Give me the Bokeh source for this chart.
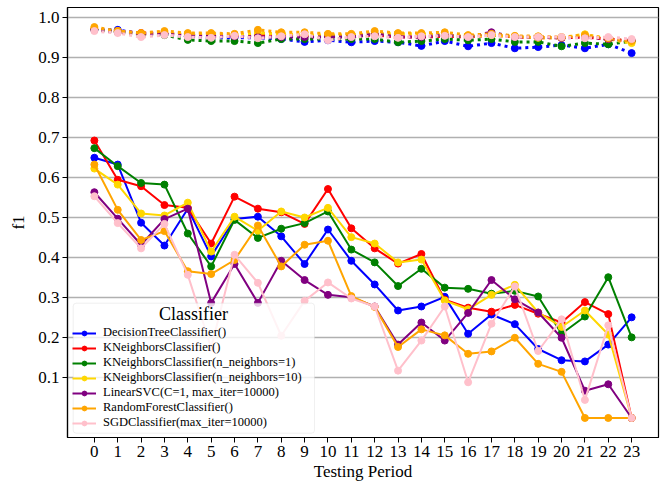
from bokeh.plotting import figure
from bokeh.models import (FixedTicker, Legend, LegendItem, Range1d, PrintfTickFormatter,
                          Label, BoxAnnotation)
from bokeh.embed import file_html
from bokeh.resources import INLINE

periods = list(range(24))

names = [
    "DecisionTreeClassifier()",
    "KNeighborsClassifier()",
    "KNeighborsClassifier(n_neighbors=1)",
    "KNeighborsClassifier(n_neighbors=10)",
    "LinearSVC(C=1, max_iter=10000)",
    "RandomForestClassifier()",
    "SGDClassifier(max_iter=10000)",
]
colors = ["blue", "red", "green", "gold", "purple", "orange", "pink"]

# test-period f1 (solid lines)
dt_test = [0.649, 0.632, 0.487, 0.430, 0.522, 0.403, 0.496, 0.502, 0.453, 0.384, 0.470, 0.392,
           0.333, 0.268, 0.278, 0.302, 0.210, 0.258, 0.234, 0.172, 0.144, 0.141, 0.183, 0.251]
knn_test = [0.692, 0.594, 0.578, 0.531, 0.524, 0.435, 0.552, 0.522, 0.513, 0.484, 0.571, 0.473,
            0.423, 0.385, 0.409, 0.295, 0.275, 0.265, 0.282, 0.260, 0.238, 0.289, 0.259, 0.0]
knn1_test = [0.673, 0.628, 0.586, 0.582, 0.460, 0.378, 0.494, 0.449, 0.472, 0.486, 0.515, 0.420,
             0.388, 0.329, 0.372, 0.325, 0.322, 0.310, 0.317, 0.303, 0.210, 0.253, 0.351, 0.201]
knn10_test = [0.622, 0.582, 0.510, 0.505, 0.537, 0.415, 0.502, 0.467, 0.515, 0.500, 0.524, 0.451,
              0.435, 0.388, 0.395, 0.293, 0.271, 0.307, 0.332, 0.263, 0.227, 0.268, 0.208, 0.0]
svc_test = [0.563, 0.497, 0.432, 0.496, 0.522, 0.287, 0.384, 0.287, 0.392, 0.344, 0.307, 0.301,
            0.278, 0.183, 0.238, 0.193, 0.262, 0.344, 0.296, 0.263, 0.200, 0.068, 0.084, 0.0]
rf_test = [0.632, 0.519, 0.444, 0.466, 0.366, 0.359, 0.394, 0.480, 0.378, 0.432, 0.442, 0.304,
           0.277, 0.177, 0.221, 0.206, 0.160, 0.166, 0.200, 0.135, 0.115, 0.0, 0.0, 0.0]
sgd_test = [0.553, 0.486, 0.423, 0.484, 0.357, 0.175, 0.407, 0.337, 0.205, 0.292, 0.338, 0.298,
            0.278, 0.118, 0.193, 0.278, 0.089, 0.235, 0.328, 0.167, 0.246, 0.045, 0.231, 0.0]

# training f1 (dotted lines)
dt_train = [0.968, 0.968, 0.958, 0.958, 0.952, 0.948, 0.948, 0.948, 0.945, 0.938, 0.942, 0.937,
            0.940, 0.937, 0.928, 0.940, 0.927, 0.935, 0.922, 0.925, 0.930, 0.922, 0.932, 0.910]
knn_train = [0.970, 0.965, 0.960, 0.960, 0.955, 0.952, 0.952, 0.955, 0.955, 0.952, 0.952, 0.952,
             0.955, 0.950, 0.950, 0.952, 0.950, 0.955, 0.950, 0.948, 0.948, 0.950, 0.945, 0.940]
knn1_train = [0.968, 0.963, 0.955, 0.955, 0.943, 0.940, 0.940, 0.935, 0.945, 0.945, 0.945, 0.945,
              0.945, 0.937, 0.940, 0.945, 0.942, 0.945, 0.938, 0.938, 0.927, 0.935, 0.932, 0.940]
knn10_train = [0.970, 0.965, 0.958, 0.960, 0.958, 0.958, 0.955, 0.960, 0.958, 0.955, 0.955, 0.955,
               0.958, 0.958, 0.958, 0.955, 0.952, 0.955, 0.952, 0.948, 0.948, 0.957, 0.945, 0.935]
svc_train = [0.968, 0.962, 0.958, 0.958, 0.952, 0.952, 0.952, 0.950, 0.950, 0.950, 0.950, 0.950,
             0.958, 0.950, 0.950, 0.955, 0.950, 0.962, 0.950, 0.950, 0.948, 0.950, 0.945, 0.942]
rf_train = [0.975, 0.965, 0.960, 0.965, 0.960, 0.960, 0.958, 0.968, 0.962, 0.962, 0.958, 0.958,
            0.965, 0.960, 0.960, 0.962, 0.955, 0.958, 0.953, 0.952, 0.950, 0.955, 0.947, 0.940]
sgd_train = [0.965, 0.960, 0.950, 0.955, 0.950, 0.948, 0.953, 0.947, 0.952, 0.957, 0.942, 0.950,
             0.952, 0.948, 0.952, 0.953, 0.950, 0.955, 0.950, 0.950, 0.950, 0.947, 0.950, 0.945]

test_series = [dt_test, knn_test, knn1_test, knn10_test, svc_test, rf_test, sgd_test]
train_series = [dt_train, knn_train, knn1_train, knn10_train, svc_train, rf_train, sgd_train]

y_ticks = [0.1, 0.2, 0.3, 0.4, 0.5, 0.6, 0.7, 0.8, 0.9, 1.0]
legend_title = "Classifier"

FONT = "Liberation Serif"

p = figure(width=665, height=487, output_backend="svg", toolbar_location=None,
           x_range=Range1d(-1.15, 24.15), y_range=Range1d(-0.04875, 1.02375),
           min_border_left=67, min_border_right=7, min_border_top=7, min_border_bottom=50)

p.background_fill_color = "white"
p.border_fill_color = "white"
p.outline_line_color = "black"
p.outline_line_width = 1.2

p.xgrid.visible = False
p.ygrid.ticker = FixedTicker(ticks=y_ticks)
p.ygrid.grid_line_color = "#b0b0b0"
p.ygrid.grid_line_width = 1.3

p.xaxis.ticker = FixedTicker(ticks=periods)
p.yaxis.ticker = FixedTicker(ticks=y_ticks)
p.yaxis.formatter = PrintfTickFormatter(format="%.1f")
for ax in (p.xaxis, p.yaxis):
    ax.axis_line_color = "black"
    ax.axis_line_width = 1.2
    ax.major_tick_line_color = "black"
    ax.major_tick_out = 5
    ax.major_tick_in = 0
    ax.minor_tick_line_color = None
    ax.major_label_text_font = FONT
    ax.major_label_text_font_size = "17px"
    ax.major_label_text_color = "black"
    ax.axis_label_text_font = FONT
    ax.axis_label_text_font_size = "17px"
    ax.axis_label_text_font_style = "normal"
    ax.axis_label_text_color = "black"
    ax.major_label_standoff = 3
p.xaxis.axis_label = "Testing Period"
p.yaxis.axis_label = "f1"
p.xaxis.axis_label_standoff = 2
p.yaxis.axis_label_standoff = 7

items = []
for name, col, te, tr in zip(names, colors, test_series, train_series):
    l1 = p.line(periods, te, line_color=col, line_width=2)
    c1 = p.scatter(periods, te, size=7, fill_color=col, line_color=col)
    p.line(periods, tr, line_color=col, line_width=3, line_dash="3 4")
    p.scatter(periods, tr, size=7, fill_color=col, line_color=col)
    items.append(LegendItem(label=name, renderers=[l1, c1]))

# legend frame drawn separately so the centred title sits above it
box = BoxAnnotation(left=5.7, right=247, bottom=4.3, top=134.3,
                    left_units="screen", right_units="screen",
                    bottom_units="screen", top_units="screen",
                    fill_color="white", fill_alpha=0.8,
                    line_color="#cccccc", line_width=1, border_radius=3)
p.add_layout(box)

legend = Legend(items=items, location=(5, 7), title=" ")
legend.title_text_font = FONT
legend.title_text_font_size = "18px"
legend.title_text_font_style = "normal"
legend.title_standoff = 5
legend.label_text_font = FONT
legend.label_text_font_size = "12.5px"
legend.label_text_color = "black"
legend.label_height = 12
legend.glyph_height = 12
legend.glyph_width = 24
legend.label_standoff = 7
legend.spacing = 0
legend.padding = 4
legend.margin = 0
legend.border_line_color = None
legend.background_fill_alpha = 0
p.add_layout(legend)

title_label = Label(x=126, y=124, x_units="screen", y_units="screen", text=legend_title,
                    text_font=FONT, text_font_size="18px", text_color="black",
                    text_align="center", text_baseline="middle")
p.add_layout(title_label)

open("out.html", "w").write(file_html(p, INLINE))
